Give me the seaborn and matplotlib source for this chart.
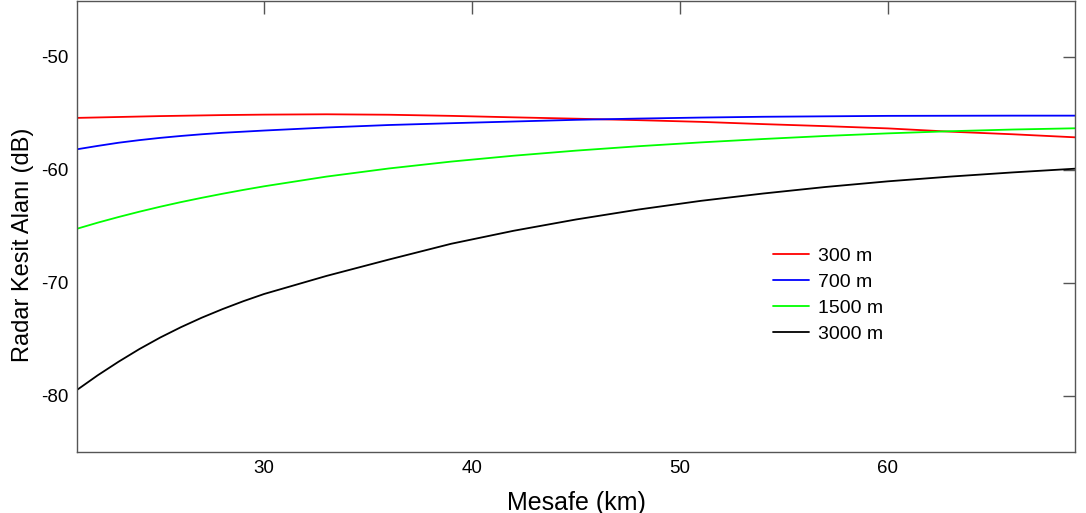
import matplotlib
matplotlib.use("Agg")
import matplotlib.pyplot as plt
import seaborn as sns
import pandas as pd

# Distance (km)
distance_km = [21, 22, 23, 24, 25, 26, 27, 28, 29, 30, 33, 36, 39, 42, 45, 48, 51, 54, 57, 60, 63, 66, 69]

# Radar cross section (dB) per altitude
rcs_300 = [-55.40, -55.36, -55.32, -55.28, -55.24, -55.21, -55.18, -55.15, -55.13, -55.11,
           -55.08, -55.12, -55.22, -55.35, -55.47, -55.60, -55.75, -55.95, -56.13, -56.33,
           -56.62, -56.85, -57.12]
rcs_700 = [-58.18, -57.88, -57.60, -57.37, -57.17, -57.00, -56.85, -56.72, -56.62, -56.52,
           -56.25, -56.03, -55.87, -55.72, -55.57, -55.46, -55.37, -55.30, -55.26, -55.22,
           -55.21, -55.20, -55.20]
rcs_1500 = [-65.22, -64.68, -64.18, -63.71, -63.27, -62.86, -62.48, -62.12, -61.78, -61.46,
            -60.60, -59.88, -59.27, -58.75, -58.30, -57.91, -57.57, -57.27, -57.00, -56.77,
            -56.58, -56.43, -56.32]
rcs_3000 = [-79.50, -78.20, -77.00, -75.88, -74.86, -73.94, -73.10, -72.34, -71.64, -71.00,
            -69.40, -67.95, -66.55, -65.40, -64.40, -63.52, -62.75, -62.10, -61.52, -61.02,
            -60.60, -60.23, -59.90]

series_labels = ["300 m", "700 m", "1500 m", "3000 m"]
series_colors = ["#ff0000", "#0000ff", "#00ff00", "#000000"]
x_ticks = [30, 40, 50, 60]
y_ticks = [-80, -70, -60, -50]

frames = []
for lab, vals in zip(series_labels, [rcs_300, rcs_700, rcs_1500, rcs_3000]):
    frames.append(pd.DataFrame({"Mesafe": distance_km, "RCS": vals, "Yükseklik": lab}))
df = pd.concat(frames, ignore_index=True)

sns.set_style("white")
plt.rcParams["font.family"] = ["Liberation Sans", "DejaVu Sans"]
plt.rcParams["axes.unicode_minus"] = False
plt.rcParams["text.color"] = "black"
plt.rcParams["axes.labelcolor"] = "black"

fig = plt.figure(figsize=(10.86, 5.13), dpi=100)
ax = fig.add_axes([77 / 1086, 1 - 452 / 513, (1075 - 77) / 1086, 452 / 513 - 0.001])

sns.lineplot(data=df, x="Mesafe", y="RCS", hue="Yükseklik", hue_order=series_labels,
             palette=series_colors, linewidth=1.3, ax=ax, sort=False)

ax.set_xlim(21, 69)
ax.set_ylim(-85, -45)
ax.set_xticks(x_ticks)
ax.set_yticks(y_ticks)
ax.tick_params(direction="in", length=9, width=1, top=True, right=True,
               labelsize=13.5, labelcolor="black", color="#555555", pad=6)
for s in ax.spines.values():
    s.set_visible(True)
    s.set_color("#555555")
    s.set_linewidth(1.0)

ax.set_xlabel("Mesafe (km)", fontsize=18, color="black")
ax.set_ylabel("Radar Kesit Alanı (dB)", fontsize=17, color="black")
ax.xaxis.set_label_coords(0.5, -0.086)
ax.yaxis.set_label_coords(-0.043, 0.46)

leg = ax.legend(loc="upper left", bbox_to_anchor=(0.69, 0.47), frameon=False,
                fontsize=14, handlelength=1.85, handletextpad=0.45, labelspacing=0.42,
                borderaxespad=0)
for line in leg.get_lines():
    line.set_linewidth(1.3)
for t in leg.get_texts():
    t.set_color("black")

fig.savefig("out.png", dpi=100, facecolor="white")
